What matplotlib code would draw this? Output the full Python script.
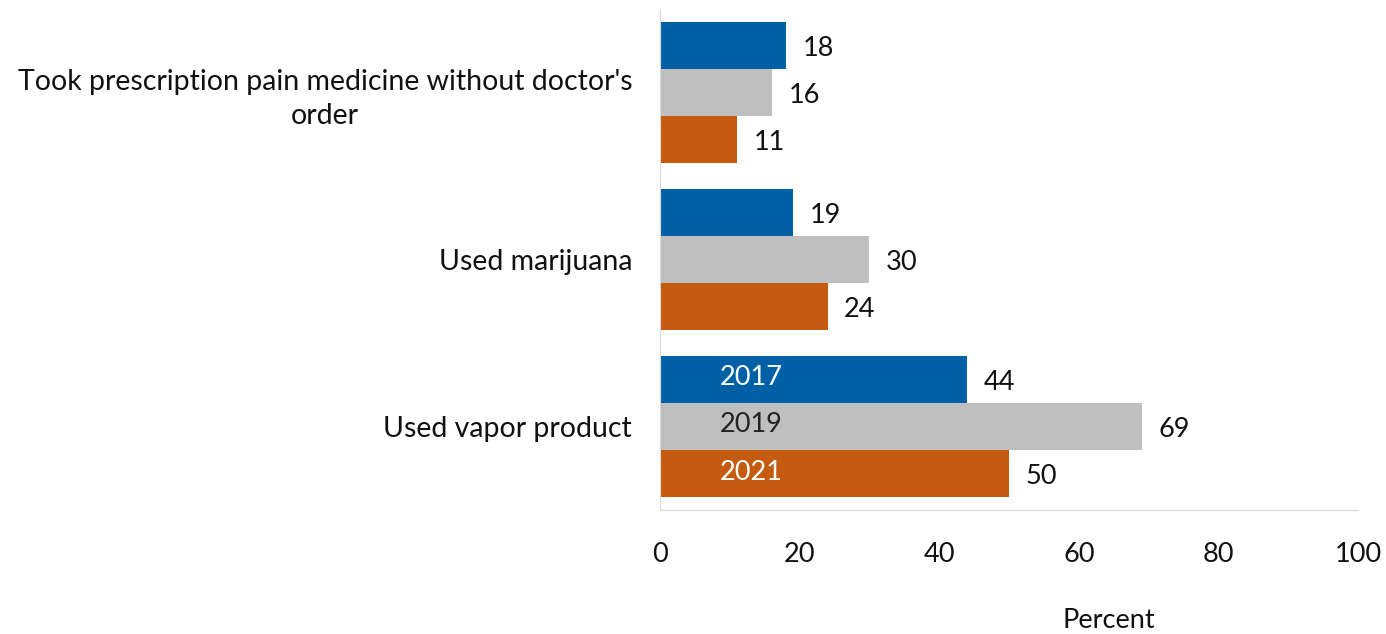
import matplotlib
matplotlib.use("Agg")
import matplotlib.pyplot as plt
import numpy as np

plt.rcParams['font.family'] = ['Lato', 'DejaVu Sans']

categories = ["Took prescription pain medicine without doctor's\norder",
              "Used marijuana",
              "Used vapor product"]
years = ["2017", "2019", "2021"]
values = {
    "2017": [18, 19, 44],
    "2019": [16, 30, 69],
    "2021": [11, 24, 50],
}
colors = {"2017": "#0060A6", "2019": "#BFBFBF", "2021": "#C55A11"}
inbar_color = {"2017": "white", "2019": "#222222", "2021": "white"}

FS = 19.5

fig = plt.figure(figsize=(13.86, 6.34), dpi=100)
ax = fig.add_axes([0.4762, 0.1956, 0.5036, 0.7902])

pos = np.arange(len(categories))
h = 0.283
for k, yr in enumerate(years):
    yy = pos + (k - 1) * h
    ax.barh(yy, values[yr], height=h, color=colors[yr], edgecolor='none')
    for y, v in zip(yy, values[yr]):
        ax.annotate(f"{v}", (v, y), xytext=(12, -2), textcoords='offset points',
                    ha='left', va='center', fontsize=FS, color='#111111')
    # series name written inside the last group's bars
    ax.text(13, yy[-1] - 0.01, yr, ha='center', va='center', fontsize=FS,
            color=inbar_color[yr])

ax.set_xlim(0, 100)
ax.set_ylim(2.5, -0.5)
ax.set_xticks(np.arange(0, 101, 20))
ax.set_yticks(pos)
ax.set_yticklabels(categories, multialignment='center', linespacing=1.4,
                   fontsize=20.5)
ax.tick_params(axis='x', length=0, labelsize=FS, colors='#111111', pad=23)
ax.tick_params(axis='y', length=0, colors='#111111', pad=20)
for s in ['top', 'right']:
    ax.spines[s].set_visible(False)
ax.spines['left'].set_color('#D9D9D9')
ax.spines['bottom'].set_color('#D9D9D9')

fig.text(1109 / 1386, 1 - 620 / 634, "Percent", ha='center', va='center',
         fontsize=FS, color='#111111')

fig.savefig("out.png", dpi=100, facecolor='white')
